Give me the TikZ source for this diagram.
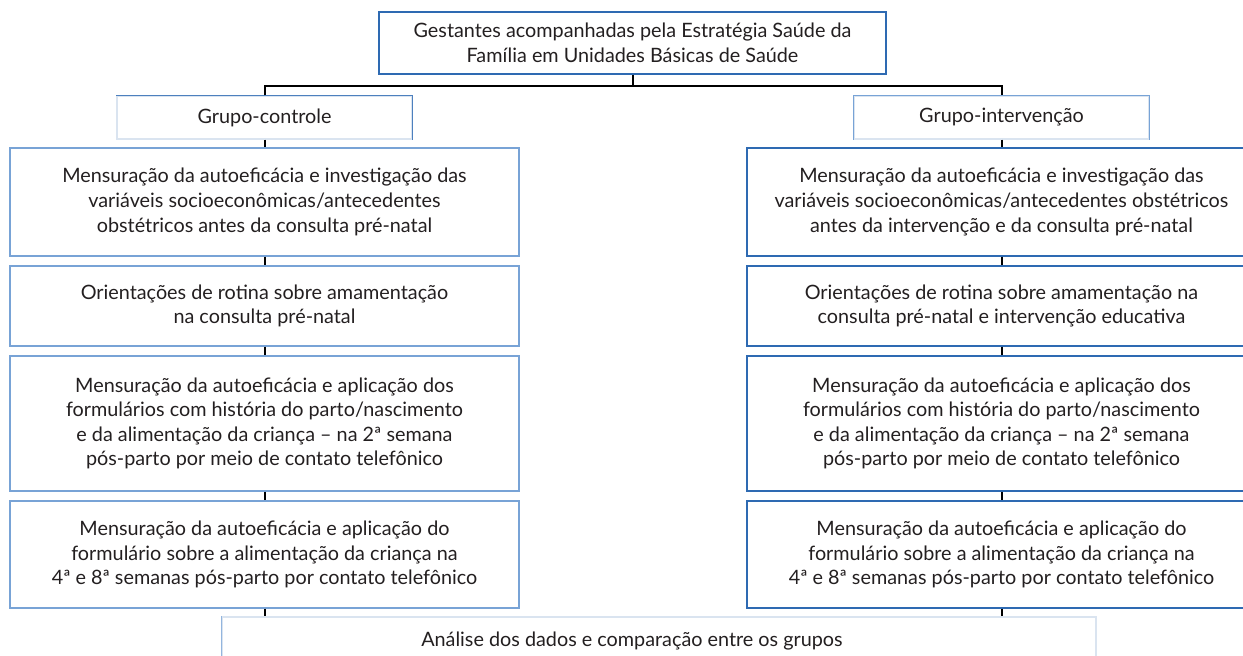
\documentclass[tikz,border=0pt]{standalone}
\usepackage{fontspec}
\setmainfont{Lato}
\usepackage{xcolor}
\usepackage{tikz}
\usetikzlibrary{positioning}

\definecolor{dkblue}{RGB}{46,106,178}
\definecolor{ltblue}{RGB}{120,163,214}
\definecolor{fntblue}{RGB}{218,228,240}
\definecolor{txtgray}{RGB}{35,31,32}

\tikzset{
  box/.style={draw, line width=0.65pt, align=center, inner sep=0pt, text=txtgray,
    font=\fontsize{9.9}{12.3}\selectfont},
  topbox/.style={box, draw=dkblue, minimum width=253.5pt, minimum height=31pt},
  grpbox/.style={box, draw=fntblue, minimum width=147.5pt, minimum height=21.5pt},
  leftbox/.style={box, draw=ltblue, minimum width=254.5pt},
  rightbox/.style={box, draw=dkblue, minimum width=254.5pt},
  anabox/.style={box, draw=fntblue, minimum width=437pt, minimum height=24pt},
  side/.style={line width=0.65pt},
  link/.style={draw=black, line width=1pt}
}

\begin{document}
\begin{tikzpicture}[x=0.5pt, y=-0.5pt]
        \useasboundingbox (0,0) rectangle (1243,656);
        \clip (0,0) rectangle (1243,656);
        \node[topbox] (top) at (632.5,43) {Gestantes acompanhadas pela Estratégia Saúde da\\Família em Unidades Básicas de Saúde};
        \node[grpbox] (gc) at (264.5,117.5) {Grupo-controle};
        \node[grpbox] (gi) at (1001.5,117.5) {Grupo-intervenção};
        % left column
        \node[leftbox, minimum height=54pt] (l1) at (264.5,202) {Mensuração da autoeficácia e investigação das\\variáveis socioeconômicas/antecedentes\\obstétricos antes da consulta pré-natal};
        \node[leftbox, minimum height=40pt] (l2) at (264.5,306) {Orientações de rotina sobre amamentação\\na consulta pré-natal};
        \node[leftbox, minimum height=67.5pt] (l3) at (264.5,423.5) {Mensuração da autoeficácia e aplicação dos\\formulários com história do parto/nascimento\\e da alimentação da criança -- na 2ª semana\\pós-parto por meio de contato telefônico};
        \node[leftbox, minimum height=53.5pt] (l4) at (264.5,554.5) {Mensuração da autoeficácia e aplicação do\\formulário sobre a alimentação da criança na\\4ª e 8ª semanas pós-parto por contato telefônico};
        % right column
        \node[rightbox, minimum height=54pt] (r1) at (1001.5,202) {Mensuração da autoeficácia e investigação das\\variáveis socioeconômicas/antecedentes obstétricos\\antes da intervenção e da consulta pré-natal};
        \node[rightbox, minimum height=40pt] (r2) at (1001.5,306) {Orientações de rotina sobre amamentação na\\consulta pré-natal e intervenção educativa};
        \node[rightbox, minimum height=67.5pt] (r3) at (1001.5,423.5) {Mensuração da autoeficácia e aplicação dos\\formulários com história do parto/nascimento\\e da alimentação da criança -- na 2ª semana\\pós-parto por meio de contato telefônico};
        \node[rightbox, minimum height=53.5pt] (r4) at (1001.5,554.5) {Mensuração da autoeficácia e aplicação do\\formulário sobre a alimentação da criança na\\4ª e 8ª semanas pós-parto por contato telefônico};
        \node[anabox] (ana) at (659,641) {};
        \node[box, draw=none] (anatxt) at (632,641) {Análise dos dados e comparação entre os grupos};
        % stronger sides
        \draw[side, draw=dkblue!85] (gc.north west) -- (gc.north east) -- (gc.south east);
        \draw[side, draw=ltblue] (gi.south west) -- (gi.north west) -- (gi.north east) -- (gi.south east);
        \draw[side, draw=ltblue!80] (ana.north west) -- (ana.south west);
        % connectors
        \coordinate (split) at (632.5,86);
        \draw[link] (top.south) -- (split);
        \draw[link] (gc.north) |- (split) -| (gi.north);
        \foreach \a/\b in {gc/l1, l1/l2, l2/l3, l3/l4, gi/r1, r1/r2, r2/r3, r3/r4}
            \draw[link] (\a.south) -- (\b.north);
        \draw[link] (l4.south) -- (l4.south |- ana.north);
        \draw[link] (r4.south) -- (r4.south |- ana.north);
    \end{tikzpicture}
\end{document}
